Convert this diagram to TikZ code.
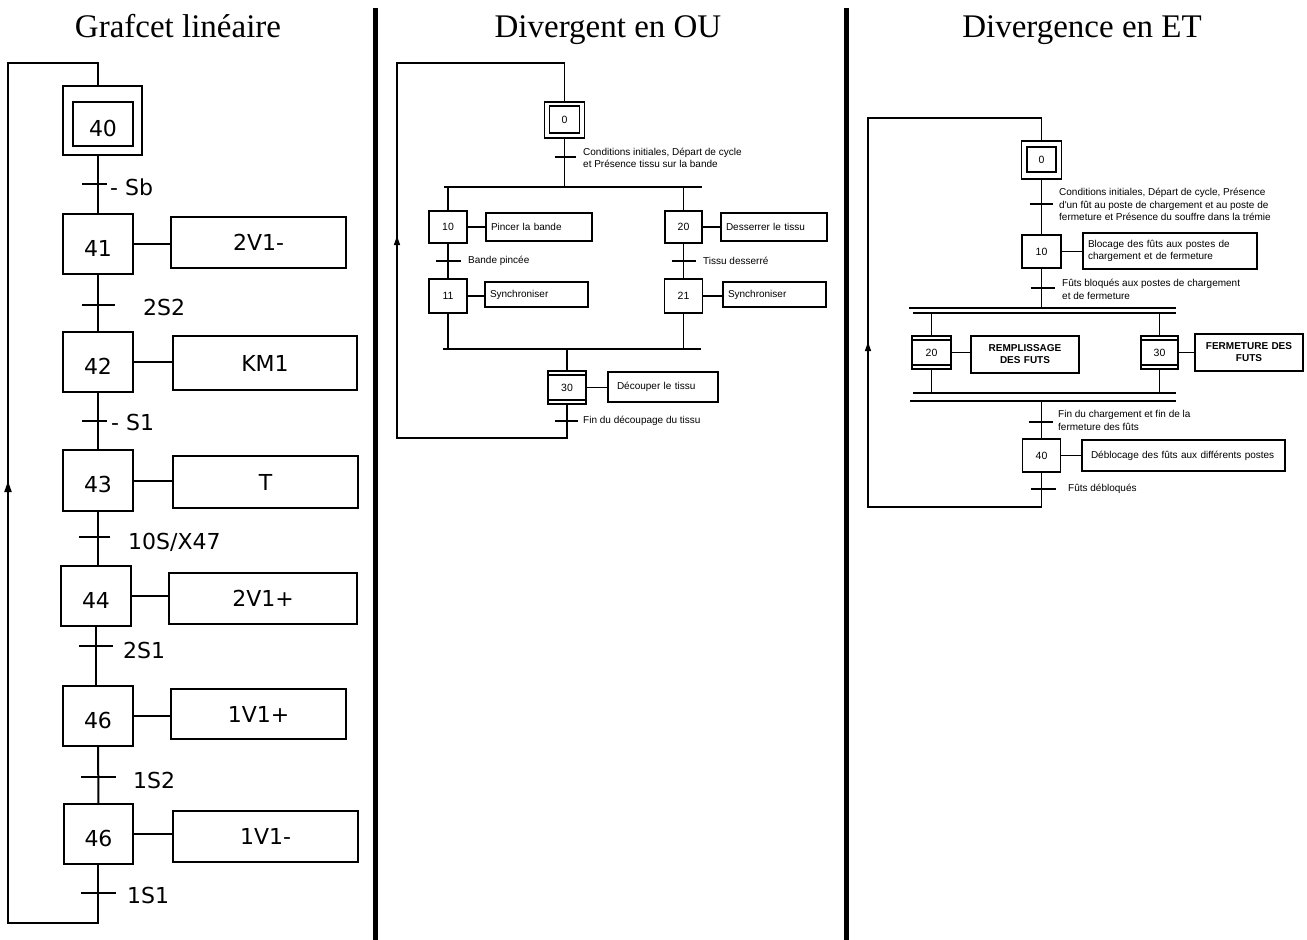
\documentclass[tikz,border=0pt]{standalone}
\usepackage{fontspec}
\setmainfont{Liberation Serif}
\newfontfamily\verd{DejaVu Sans}
\newfontfamily\arl{Liberation Sans}
\usetikzlibrary{arrows.meta,calc}

\tikzset{
  % grafcet lineaire
  etapeL/.style={draw, line width=2.3pt, minimum width=70pt, minimum height=60pt, inner sep=0pt, text height=24pt, text depth=0pt, font=\verd\fontsize{22}{24}\selectfont},
  actionL/.style={draw, line width=2.3pt, inner sep=0pt, font=\verd\fontsize{22}{24}\selectfont},
  recL/.style={anchor=west, inner sep=0pt, font=\verd\fontsize{22}{24}\selectfont},
  lienL/.style={line width=2pt},
  % divergences
  etape/.style={draw, line width=1.8pt, inner sep=0pt, font=\arl\fontsize{10.5}{12}\selectfont},
  macro/.style={etape, path picture={
      \draw[line width=1.2pt] ([yshift=-4pt]path picture bounding box.north west) -- ([yshift=-4pt]path picture bounding box.north east);
      \draw[line width=1.2pt] ([yshift=4pt]path picture bounding box.south west) -- ([yshift=4pt]path picture bounding box.south east);}},
  action/.style={draw, line width=1.8pt, inner xsep=5pt, inner ysep=0pt, align=left, font=\arl\fontsize{10}{12.5}\selectfont},
  actionB/.style={action, align=center, font=\arl\bfseries\fontsize{10}{12}\selectfont},
  rec/.style={anchor=west, inner sep=0pt, align=left, font=\arl\fontsize{10}{12.5}\selectfont},
  lien/.style={line width=1.4pt},
  tick/.style={line width=1.6pt},
  fleche/.style={line width=1.4pt, -{Triangle[length=9pt,width=6pt]}},
  titre/.style={anchor=base, inner sep=0pt, font=\fontsize{33}{36}\selectfont}
}

\begin{document}
\begin{tikzpicture}[x=1pt, y=-1pt]
  \useasboundingbox (0,0) rectangle (1307,940);

  % titres et separations
  \node[titre] (tit1) at (178,37) {Grafcet linéaire};
  \node[titre] (tit2) at (608,37) {Divergent en OU};
  \node[titre] (tit3) at (1082,37) {Divergence en ET};
  \coordinate (sep1h) at (375,8);
  \coordinate (sep1b) at (375,940);
  \coordinate (sep2h) at (846,8);
  \coordinate (sep2b) at (846,940);
  \draw[line width=5pt] (sep1h) -- (sep1b);
  \draw[line width=5pt] (sep2h) -- (sep2b);

  % ---- grafcet lineaire ----
  \node[etapeL, minimum width=79pt, minimum height=69pt] (e40) at (102.5,120.5) {};
  \node[etapeL, minimum width=60pt, minimum height=44pt] (e40i) at (103,124) {40};
  \node[etapeL] (e41) at (98,244) {41};
  \node[actionL, minimum width=175pt, minimum height=51pt] (a41) at (258.5,242.5) {2V1-};
  \node[etapeL] (e42) at (98,362) {42};
  \node[actionL, minimum width=184pt, minimum height=54pt] (a42) at (265,363) {KM1};
  \node[etapeL, minimum height=61pt] (e43) at (98,480.5) {43};
  \node[actionL, minimum width=185pt, minimum height=52pt] (a43) at (265.5,482) {T};
  \node[etapeL] (e44) at (96,596) {44};
  \node[actionL, minimum width=188pt, minimum height=51pt] (a44) at (263,598.5) {2V1+};
  \node[etapeL] (e46a) at (98,716) {46};
  \node[actionL, minimum width=175pt, minimum height=50pt] (a46a) at (258.5,714) {1V1+};
  \node[etapeL, minimum width=69pt] (e46b) at (98.5,834) {46};
  \node[actionL, minimum width=185pt, minimum height=51pt] (a46b) at (265.5,836.5) {1V1-};

  \draw[lienL] (e40.south -| e41.north) -- (e41.north);
  \draw[lienL] (e41) -- (e42);
  \draw[lienL] (e42) -- (e43);
  \draw[lienL] (e43.south) -- (e43.south |- e44.north);
  \draw[lienL] (e44.south) -- (e44.south |- e46a.north);
  \draw[lienL] (e46a) -- (e46b);
  \draw[lienL] (e41.east) -- (e41.east -| a41.west);
  \draw[lienL] (e42.east) -- (e42.east -| a42.west);
  \draw[lienL] (e43.east) -- (e43.east -| a43.west);
  \draw[lienL] (e44.east) -- (e44.east -| a44.west);
  \draw[lienL] (e46a.east) -- (e46a.east -| a46a.west);
  \draw[lienL] (e46b.east) -- (e46b.east -| a46b.west);

  % receptivites
  \coordinate (t40) at (98,184);
  \coordinate (t41) at (98,305);
  \coordinate (t42) at (98,421);
  \coordinate (t43) at (96,537);
  \coordinate (t44) at (96,646);
  \coordinate (t46a) at (98,777);
  \coordinate (t46b) at (98,893);
  \draw[lienL] ([xshift=-16pt]t40) -- ([xshift=9pt]t40);
  \draw[lienL] ([xshift=-16pt]t41) -- ([xshift=17pt]t41);
  \draw[lienL] ([xshift=-16pt]t42) -- ([xshift=9pt]t42);
  \draw[lienL] ([xshift=-17pt]t43) -- ([xshift=14pt]t43);
  \draw[lienL] ([xshift=-17pt]t44) -- ([xshift=17pt]t44);
  \draw[lienL] ([xshift=-17pt]t46a) -- ([xshift=18pt]t46a);
  \draw[lienL] ([xshift=-17pt]t46b) -- ([xshift=18pt]t46b);
  \node[recL] (r40) at (110,187) {- Sb};
  \node[recL] (r41) at (143,307) {2S2};
  \node[recL] (r42) at (111,422) {- S1};
  \node[recL] (r43) at (128,542) {10S/X47};
  \node[recL] (r44) at (123,650) {2S1};
  \node[recL] (r46a) at (133,780) {1S2};
  \node[recL] (r46b) at (127,895) {1S1};

  % retour
  \coordinate (b1) at (98,923);
  \coordinate (b2) at (8,923);
  \coordinate (h2) at (8,63);
  \coordinate (h1) at (98,63);
  \coordinate (fl) at (8,481);
  \draw[lienL] (e46b.south -| b1) -- (b1) -- (b2) -- (h2) -- (h1) -- (h1 |- e40.north);
  \draw[lienL, -{Triangle[length=11pt,width=7pt]}] (b2) -- (fl);

  % ---- divergence en OU ----
  \node[etape, minimum width=40pt, minimum height=36pt] (m0) at (564.5,120) {};
  \node[etape, minimum width=30pt, minimum height=27pt] (m0i) at (564.5,119.5) {0};
  \node[etape, minimum width=38pt, minimum height=32pt] (m10) at (448,227) {10};
  \node[action, text width=96pt, minimum height=28pt] (ma10) at (539,227) {Pincer la bande};
  \node[etape, minimum width=38pt, minimum height=34pt] (m11) at (448,296) {11};
  \node[action, text width=93pt, minimum height=25pt] (ma11) at (536.5,294.5) {Synchroniser};
  \node[etape, minimum width=37pt, minimum height=32pt] (m20) at (683.5,227) {20};
  \node[action, text width=96pt, minimum height=28pt] (ma20) at (774,227) {Desserrer le tissu};
  \node[etape, minimum width=38pt, minimum height=34pt] (m21) at (683.5,296) {21};
  \node[action, text width=93pt, minimum height=25pt] (ma21) at (774.5,294.5) {Synchroniser};
  \node[macro, minimum width=38pt, minimum height=33pt] (m30) at (567,387.5) {30};
  \node[action, inner xsep=9pt, text width=92pt, minimum height=30pt] (ma30) at (663,387) {Découper le tissu};

  \coordinate (mdivL) at (444,187);
  \coordinate (mdivR) at (702,187);
  \coordinate (mconvL) at (443,349);
  \coordinate (mconvR) at (701,349);
  \draw[lien] (m0.south) -- (m0.south |- mdivL);
  \draw[lien] (mdivL) -- (mdivR);
  \draw[lien] (m10.north |- mdivL) -- (m10.north);
  \draw[lien] (m20.north |- mdivL) -- (m20.north);
  \draw[lien] (m10) -- (m11);
  \draw[lien] (m20) -- (m21);
  \draw[lien] (m11.south) -- (m11.south |- mconvL);
  \draw[lien] (m21.south) -- (m21.south |- mconvL);
  \draw[lien] (mconvL) -- (mconvR);
  \draw[lien] (m30.north |- mconvL) -- (m30.north);
  \draw[lien] (m10.east) -- (ma10.west);
  \draw[lien] (m20.east) -- (ma20.west);
  \draw[lien] (m11.east) -- (m11.east -| ma11.west);
  \draw[lien] (m21.east) -- (m21.east -| ma21.west);
  \draw[lien] (m30.east) -- (m30.east -| ma30.west);

  \coordinate (mt0) at (564.5,157);
  \coordinate (mt10) at (448,261);
  \coordinate (mt20) at (683.5,261);
  \coordinate (mt30) at (567,421);
  \draw[tick] ([xshift=-10pt]mt0) -- ([xshift=11pt]mt0);
  \draw[tick] ([xshift=-12pt]mt10) -- ([xshift=13pt]mt10);
  \draw[tick] ([xshift=-12pt]mt20) -- ([xshift=12pt]mt20);
  \draw[tick] ([xshift=-12pt]mt30) -- ([xshift=11pt]mt30);
  \node[rec] (mc0) at (583,158) {Conditions initiales, Départ de cycle\\et Présence tissu sur la bande};
  \node[rec] (mc10) at (468,261) {Bande pincée};
  \node[rec] (mc20) at (703,261) {Tissu desserré};
  \node[rec] (mc30) at (583,421) {Fin du découpage du tissu};

  \coordinate (mb1) at (567,438);
  \coordinate (mb2) at (397,438);
  \coordinate (mh2) at (397,63);
  \coordinate (mh1) at (564.5,63);
  \coordinate (mfl) at (397,236);
  \draw[lien] (m30.south) -- (mb1) -- (mb2) -- (mh2) -- (mh1) -- (m0.north);
  \draw[fleche] (mb2) -- (mfl);

  % ---- divergence en ET ----
  \node[etape, minimum width=40pt, minimum height=38pt] (r0) at (1041.5,160) {};
  \node[etape, minimum width=29pt, minimum height=25pt] (r0i) at (1041.5,159.5) {0};
  \node[etape, minimum width=39pt, minimum height=33pt] (r10) at (1041.5,251.5) {10};
  \node[action, text width=164pt, minimum height=36pt] (ra10) at (1170,251) {Blocage des fûts aux postes de\\chargement et de fermeture};
  \node[macro, minimum width=39pt, minimum height=33pt] (r20) at (931.5,352.5) {20};
  \node[actionB, text width=98pt, minimum height=37pt] (ra20) at (1025,354.5) {REMPLISSAGE\\DES FUTS};
  \node[macro, minimum width=37pt, minimum height=33pt] (r30) at (1159.5,352.5) {30};
  \node[actionB, text width=98pt, minimum height=37pt] (ra30) at (1249,352.5) {FERMETURE DES\\FUTS};
  \node[etape, minimum width=38pt, minimum height=33pt] (r40) at (1041.5,455.5) {40};
  \node[action, inner xsep=9pt, text width=185pt, minimum height=31pt] (ra40) at (1183.5,455.5) {Déblocage des fûts aux différents postes};

  \coordinate (rdivA1) at (909,308);
  \coordinate (rdivA2) at (1176,308);
  \coordinate (rdivB1) at (913,313);
  \coordinate (rdivB2) at (1176,313);
  \coordinate (rconvA1) at (913,393);
  \coordinate (rconvA2) at (1176,393);
  \coordinate (rconvB1) at (910,401);
  \coordinate (rconvB2) at (1176,401);
  \draw[lien] (r0) -- (r10);
  \draw[lien] (r10.south) -- (r10.south |- rdivA1);
  \draw[line width=2.2pt] (rdivA1) -- (rdivA2);
  \draw[lien] (rdivB1) -- (rdivB2);
  \draw[lien] (r20.north |- rdivB1) -- (r20.north);
  \draw[lien] (r30.north |- rdivB1) -- (r30.north);
  \draw[lien] (r20.south) -- (r20.south |- rconvA1);
  \draw[lien] (r30.south) -- (r30.south |- rconvA1);
  \draw[lien] (rconvA1) -- (rconvA2);
  \draw[line width=2.2pt] (rconvB1) -- (rconvB2);
  \draw[lien] (r40.north |- rconvB1) -- (r40.north);
  \draw[lien] (r10.east) -- (r10.east -| ra10.west);
  \draw[lien] (r20.east) -- (r20.east -| ra20.west);
  \draw[lien] (r30.east) -- (r30.east -| ra30.west);
  \draw[lien] (r40.east) -- (ra40.west);

  \coordinate (rt0) at (1041.5,204);
  \coordinate (rt10) at (1041.5,288);
  \coordinate (rt20) at (1041.5,422);
  \coordinate (rt40) at (1041.5,489);
  \draw[tick] ([xshift=-12pt]rt0) -- ([xshift=11pt]rt0);
  \draw[tick] ([xshift=-11pt]rt10) -- ([xshift=13pt]rt10);
  \draw[tick] ([xshift=-13pt]rt20) -- ([xshift=11pt]rt20);
  \draw[tick] ([xshift=-11pt]rt40) -- ([xshift=14pt]rt40);
  \node[rec] (rc0) at (1059,204.5) {Conditions initiales, Départ de cycle, Présence\\d'un fût au poste de chargement et au poste de\\fermeture et Présence du souffre dans la trémie};
  \node[rec] (rc10) at (1062,289.5) {Fûts bloqués aux postes de chargement\\et de fermeture};
  \node[rec] (rc20) at (1058,420.5) {Fin du chargement et fin de la\\fermeture des fûts};
  \node[rec] (rc40) at (1068,489) {Fûts débloqués};

  \coordinate (rb1) at (1041.5,507);
  \coordinate (rb2) at (868,507);
  \coordinate (rh2) at (868,118);
  \coordinate (rh1) at (1041.5,118);
  \coordinate (rfl) at (868,342);
  \draw[lien] (r40.south) -- (rb1) -- (rb2) -- (rh2) -- (rh1) -- (r0.north);
  \draw[fleche] (rb2) -- (rfl);
\end{tikzpicture}
\end{document}
